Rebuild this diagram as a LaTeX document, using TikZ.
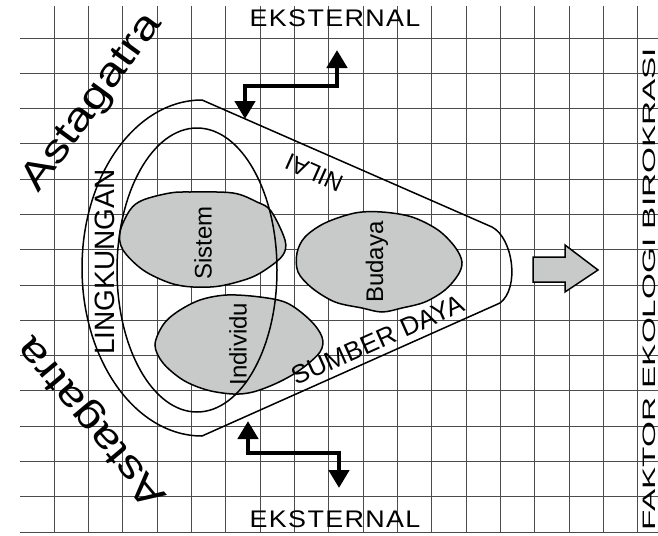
\documentclass[tikz,border=0pt]{standalone}
\usepackage{fontspec}
\setmainfont{Liberation Sans}
\newfontfamily\spacedfont[LetterSpace=5]{Liberation Sans}
\usetikzlibrary{arrows.meta}
\definecolor{blobgray}{RGB}{200,201,201}

\begin{document}
\begin{tikzpicture}[x=1pt, y=-1pt, >={Triangle[length=18pt, width=20pt]},
    gridline/.style={black!70, line width=0.8pt},
    rim/.style={line width=1.5pt},
    blob/.style={draw, fill=blobgray, line width=1.5pt},
    flow/.style={<->, line width=4.5pt},
    tag/.style={inner sep=0pt, font=\fontsize{24}{24}\selectfont}]
    \useasboundingbox (0,0) rectangle (658,535);

    % 网格
    \foreach \i in {0,...,17}
        \draw[gridline] ({54+34.33*\i},6) -- ({54+34.33*\i},532);
    \foreach \j in {0,...,14}
        \draw[gridline] (20,{38+35.28*\j}) -- (658,{38+35.28*\j});

    % 三个灰色区域
    \draw[blob] plot[smooth cycle, tension=0.55] coordinates {(120,232) (130,210) (143,200)
        (170,193) (190,192) (233,193) (257,202) (271,211) (285,240) (283,255) (268,268)
        (250,278) (220,286) (193,287) (170,283) (143,270) (123,250)};
    \draw[blob] plot[smooth cycle, tension=0.55] coordinates {(297,253) (305,237) (325,223)
        (355,213) (382,212) (412,217) (438,230) (455,247) (462,262) (458,275) (445,290)
        (425,302) (402,308) (382,312) (362,308) (335,302) (312,288) (298,272)};
    \draw[blob] plot[smooth cycle, tension=0.55] coordinates {(155,345) (163,325) (177,312)
        (200,300) (227,295) (260,297) (287,303) (310,320) (322,337) (320,352) (300,370)
        (277,383) (253,392) (233,394) (207,390) (183,380) (163,363)};

    % 外框与内椭圆
    \draw[rim] (202,100) -- (492,227) .. controls (513,238) and (520,288) .. (500,303)
        -- (202,436) .. controls (136,436) and (82,361) .. (82,268)
        .. controls (82,175) and (136,100) .. cycle;
    \draw[rim] (197,270) ellipse [x radius=80, y radius=142];

    % 右侧大箭头
    \draw[blob] (533,257) -- (565,257) -- (565,245) -- (598,270) -- (565,292)
        -- (565,282) -- (533,282) -- cycle;

    % 文字
    \node[tag, font=\spacedfont\fontsize{24}{24}\selectfont, xscale=1.12] (extTop) at (335,18) {EKSTERNAL};
    \node[tag, font=\spacedfont\fontsize{24}{24}\selectfont, xscale=1.12] (extBot) at (335,519) {EKSTERNAL};
    \node[tag, font=\fontsize{39}{39}\selectfont, rotate=54, xscale=1.26] (astaTop) at (93,103) {Astagatra};
    \node[tag, font=\fontsize{39}{39}\selectfont, rotate=130, xscale=1.26] (astaBot) at (93,421) {Astagatra};
    \node[tag, font=\fontsize{28}{28}\selectfont, rotate=90] (env) at (105,262) {LINGKUNGAN};
    \node[tag, rotate=156] (nilai) at (314,173) {NILAI};
    \node[tag, font=\fontsize{26}{26}\selectfont, rotate=24] (sdaya) at (378,340) {SUMBER DAYA};
    \node[tag, rotate=90] (sistem) at (203,243) {Sistem};
    \node[tag, rotate=90] (budaya) at (377,262) {Budaya};
    \node[tag, rotate=90] (indiv) at (238,344) {Individu};
    \node[tag, font=\fontsize{18}{18}\selectfont, rotate=90, xscale=1.85] (faktor) at (649,289) {FAKTOR EKOLOGI BIROKRASI};

    % 进出箭头
    \coordinate (in1) at (245,119);
    \coordinate (out1) at (337,50);
    \coordinate (in2) at (248,421);
    \coordinate (out2) at (339,488);
    \draw[flow] (out1) -- ++(0,36) -| (in1);
    \draw[flow] (in2) -- ++(0,32) -| (out2);
\end{tikzpicture}
\end{document}
